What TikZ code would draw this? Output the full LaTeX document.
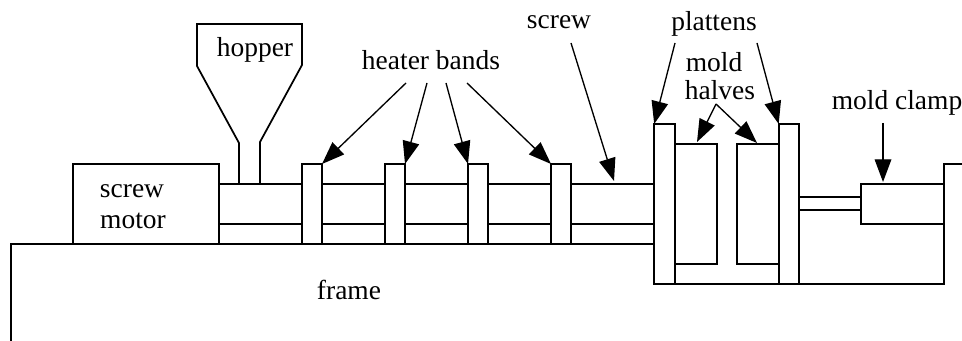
\documentclass[tikz,border=0pt]{standalone}
\usepackage{fontspec}
\setmainfont{Liberation Serif}
\usetikzlibrary{arrows.meta,positioning}

\begin{document}
\begin{tikzpicture}[
    x=0.75pt, y=-0.75pt,
    part/.style={draw, line width=1.3pt, fill=white, inner sep=0pt, outer sep=0pt},
    band/.style={part, minimum width=15pt, minimum height=60pt},
    platten/.style={part, minimum width=15.5pt, minimum height=120pt},
    moldbox/.style={part, minimum width=31.5pt, minimum height=90pt},
    line/.style={line width=1.3pt, line join=miter},
    arr/.style={-{Triangle[length=17pt,width=12.5pt]}, line width=1pt},
    lbl/.style={inner sep=0pt, font=\fontsize{20.6}{24}\selectfont}
]
\useasboundingbox (0,0) rectangle (962,341);

%% Levels of the barrel
\coordinate (barreltop) at (0,184);
\coordinate (barrelmid) at (0,224);
\coordinate (rodtop) at (0,197);
\coordinate (rodbot) at (0,210);

%% Frame
\coordinate (frametl) at (11,244);
\coordinate (framebl) at (11,341);
\draw[line] (framebl) -- (frametl) -- (655,244);

%% Screw motor
\node[part, minimum width=109.5pt, minimum height=60pt] (motor) at (146,204) {};

%% Heater bands
\node[band] (band1) at (312,204) {};
\node[band, right=47.25pt of band1] (band2) {};
\node[band, right=47.25pt of band2] (band3) {};
\node[band, right=47.25pt of band3] (band4) {};

%% Plattens and mold halves
\node[platten] (platl) at (664.5,204) {};
\node[platten] (platr) at (789,204) {};
\node[moldbox, anchor=west] (moldl) at (platl.east) {};
\node[moldbox, anchor=east] (moldr) at (platr.west) {};

%% Barrel
\draw[line] (motor.east |- barreltop) -- (band1.west |- barreltop)
            (motor.east |- barrelmid) -- (band1.west |- barrelmid)
            (band1.east |- barreltop) -- (band2.west |- barreltop)
            (band1.east |- barrelmid) -- (band2.west |- barrelmid)
            (band2.east |- barreltop) -- (band3.west |- barreltop)
            (band2.east |- barrelmid) -- (band3.west |- barrelmid)
            (band3.east |- barreltop) -- (band4.west |- barreltop)
            (band3.east |- barrelmid) -- (band4.west |- barrelmid)
            (band4.east |- barreltop) -- (platl.west |- barreltop)
            (band4.east |- barrelmid) -- (platl.west |- barrelmid);

%% Hopper
\coordinate (hoppl) at (239,184);
\coordinate (hoppr) at (260,184);
\draw[line] (hoppl) -- (239,143) -- (197,66) -- (197,24) -- (302,24)
            -- (302,65) -- (260,142) -- (hoppr);

%% Clamp side
\node[part, minimum width=62.25pt, minimum height=30pt] (clamp) at (902.5,204) {};
\draw[line] (platr.east |- rodtop) -- (clamp.west |- rodtop)
            (platr.east |- rodbot) -- (clamp.west |- rodbot);
\draw[line] (platl.south east) -- (platr.south west);
\draw[line] (platr.south east) -- (944,284) -- (944,164) -- (962,164);

%% Labels
\node[lbl] (hopper) at (255,50) {hopper};
\node[lbl] (screwtxt) at (132,191) {screw};
\node[lbl] (motortxt) at (133,221) {motor};
\node[lbl] (frame) at (349,290) {frame};
\node[lbl] (heater) at (431,60) {heater bands};
\node[lbl] (screw) at (559,22) {screw};
\node[lbl] (plattens) at (714,24) {plattens};
\node[lbl] (mold) at (714,62) {mold};
\node[lbl] (halves) at (720,90) {halves};
\node[lbl] (clamptxt) at (897,103) {mold clamp};

%% Arrows
\coordinate (heat1) at (406,83);
\coordinate (heat2) at (427,83);
\coordinate (heat3) at (446,83);
\coordinate (heat4) at (467,83);
\coordinate (screwend) at (571,43);
\coordinate (screwtip) at (614,181);
\coordinate (platend1) at (675,43);
\coordinate (platend2) at (757,43);
\coordinate (moldend) at (716,104);
\coordinate (moldtip1) at (697,142);
\coordinate (moldtip2) at (757,143);
\coordinate (clampend) at (883,123);
\coordinate (clamptip) at (883,182);
\draw[arr] (heat1) -- (band1.north east);
\draw[arr] (heat2) -- (band2.north east);
\draw[arr] (heat3) -- (band3.north west);
\draw[arr] (heat4) -- (band4.north west);
\draw[arr] (screwend) -- (screwtip);
\draw[arr] (platend1) -- (platl.north west);
\draw[arr] (platend2) -- (platr.north west);
\draw[arr] (moldend) -- (moldtip1);
\draw[arr] (moldend) -- (moldtip2);
\draw[arr] (clampend) -- (clamptip);

\end{tikzpicture}
\end{document}
